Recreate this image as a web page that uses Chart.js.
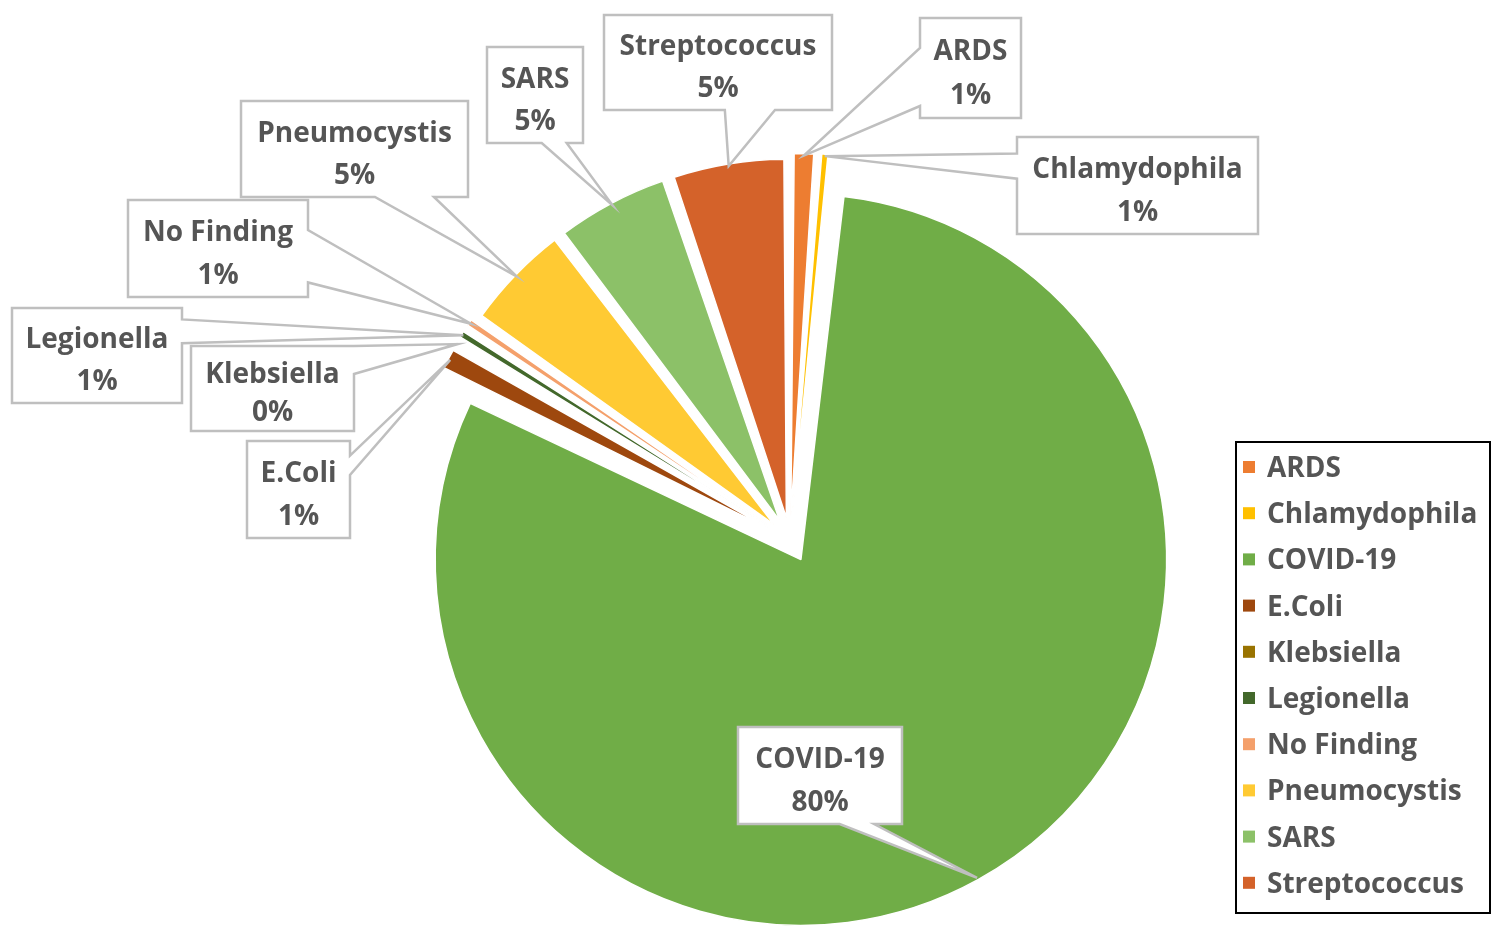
<!DOCTYPE html>
<html>
<head>
<meta charset="utf-8">
<script src="https://cdn.jsdelivr.net/npm/chart.js@4.4.1/dist/chart.umd.min.js"></script>
<style>
    html, body { margin: 0; padding: 0; background: #ffffff; }
    #wrap { width: 1510px; height: 937px; position: relative; }
</style>
</head>
<body>
<div id="wrap"><canvas id="pieChart"></canvas></div>
<script>
// dados
const categories = ['ARDS', 'Chlamydophila', 'COVID-19', 'E.Coli', 'Klebsiella', 'Legionella', 'No Finding', 'Pneumocystis', 'SARS', 'Streptococcus'];
const counts = [4, 2, 280, 4, 1, 2, 2, 17, 18, 18];

const colors = ['#ED7D31', '#FFC000', '#70AD47', '#9E480E', '#997300', '#43682B', '#F4A06B', '#FFCA33', '#8CC168', '#D4622A'];

// caixas das etiquetas (posição em px no canvas) e lado de onde sai a "cauda"
const callouts = [
    { x: 920, y: 18, w: 101, h: 100, side: 'left', base: [0.3, 0.88] },      // ARDS
    { x: 1017, y: 137, w: 241, h: 97, side: 'left', base: [0.17, 0.43] },    // Chlamydophila
    { x: 738, y: 727, w: 164, h: 97, side: 'bottom', base: [0.62, 0.83] },   // COVID-19
    { x: 247, y: 441, w: 103, h: 97, side: 'right', base: [0.15, 0.35] },    // E.Coli
    { x: 191, y: 346, w: 163, h: 85, side: 'right', base: [0.0, 0.33] },     // Klebsiella
    { x: 12, y: 308, w: 170, h: 95, side: 'right', base: [0.12, 0.37] },     // Legionella
    { x: 128, y: 200, w: 180, h: 97, side: 'right', base: [0.31, 0.85] },    // No Finding
    { x: 241, y: 101, w: 227, h: 96, side: 'bottom', base: [0.59, 0.85] },   // Pneumocystis
    { x: 487, y: 47, w: 96, h: 96, side: 'bottom', base: [0.57, 0.83] },     // SARS
    { x: 604, y: 15, w: 228, h: 95, side: 'bottom', base: [0.53, 0.75] }     // Streptococcus
];

const textColor = '#555555';
const labelFont = 'bold 28px "Open Sans"';

const calloutPlugin = {
    id: 'callouts',
    afterDatasetsDraw(chart) {
        const ctx = chart.ctx;
        const meta = chart.getDatasetMeta(0);
        const total = counts.reduce((a, b) => a + b, 0);

        meta.data.forEach((arc, i) => {
            const c = callouts[i];
            const p = arc.getProps(['x', 'y', 'startAngle', 'endAngle', 'outerRadius', 'circumference'], true);
            const mid = (p.startAngle + p.endAngle) / 2;
            const off = (arc.options.offset || 0) / 4;
            const fix = 1 - Math.sin(Math.min(Math.PI, p.circumference));
            const r = off + p.outerRadius + off * fix - 2;
            const tip = { x: p.x + Math.cos(mid) * r, y: p.y + Math.sin(mid) * r };

            const f = c.base.slice().sort((a, b) => a - b);
            const tl = [c.x, c.y], tr = [c.x + c.w, c.y], br = [c.x + c.w, c.y + c.h], bl = [c.x, c.y + c.h];
            let pts = [];
            const t = [tip.x, tip.y];
            if (c.side === 'top') {
                pts = [tl, [c.x + c.w * f[0], c.y], t, [c.x + c.w * f[1], c.y], tr, br, bl];
            } else if (c.side === 'right') {
                pts = [tl, tr, [c.x + c.w, c.y + c.h * f[0]], t, [c.x + c.w, c.y + c.h * f[1]], br, bl];
            } else if (c.side === 'bottom') {
                pts = [tl, tr, br, [c.x + c.w * f[1], c.y + c.h], t, [c.x + c.w * f[0], c.y + c.h], bl];
            } else {
                pts = [tl, tr, br, bl, [c.x, c.y + c.h * f[1]], t, [c.x, c.y + c.h * f[0]]];
            }

            ctx.save();
            ctx.beginPath();
            ctx.moveTo(pts[0][0], pts[0][1]);
            for (let k = 1; k < pts.length; k++) ctx.lineTo(pts[k][0], pts[k][1]);
            ctx.closePath();
            ctx.fillStyle = '#ffffff';
            ctx.fill();
            ctx.lineWidth = 2.5;
            ctx.lineJoin = 'miter';
            ctx.strokeStyle = '#BFBFBF';
            ctx.stroke();

            ctx.fillStyle = textColor;
            ctx.font = labelFont;
            ctx.textAlign = 'center';
            ctx.textBaseline = 'middle';
            const pct = Math.round(counts[i] / total * 100) + '%';
            ctx.fillText(categories[i], c.x + c.w / 2, c.y + c.h * 0.31 + 3);
            ctx.fillText(pct, c.x + c.w / 2, c.y + c.h * 0.75 + 3);
            ctx.restore();
        });
    }
};

// legenda desenhada à mão, com moldura preta
const legendPlugin = {
    id: 'boxLegend',
    afterDraw(chart) {
        const ctx = chart.ctx;
        const box = { x: 1236, y: 442, w: 254, h: 471 };
        ctx.save();
        ctx.fillStyle = '#ffffff';
        ctx.fillRect(box.x, box.y, box.w, box.h);
        ctx.lineWidth = 2;
        ctx.strokeStyle = '#000000';
        ctx.strokeRect(box.x, box.y, box.w, box.h);

        ctx.font = labelFont;
        ctx.textAlign = 'left';
        ctx.textBaseline = 'middle';
        categories.forEach((name, i) => {
            const cy = 467 + i * 46.2;
            ctx.fillStyle = colors[i];
            ctx.fillRect(1243, cy - 6, 12, 12);
            ctx.fillStyle = textColor;
            ctx.fillText(name, 1267, cy + 2);
        });
        ctx.restore();
    }
};

const ctxPie = document.getElementById('pieChart').getContext('2d');

new Chart(ctxPie, {
    type: 'pie',
    data: {
        labels: categories,
        datasets: [{
            data: counts,
            backgroundColor: colors,
            borderColor: '#ffffff',
            borderWidth: 1.5,
            offset: 90
        }]
    },
    options: {
        responsive: true,
        maintainAspectRatio: false,
        animation: false,
        layout: {
            padding: { left: 401, right: 331, top: 151, bottom: 8 }
        },
        plugins: {
            legend: { display: false },
            tooltip: { enabled: false }
        }
    },
    plugins: [calloutPlugin, legendPlugin]
});
</script>
</body>
</html>
